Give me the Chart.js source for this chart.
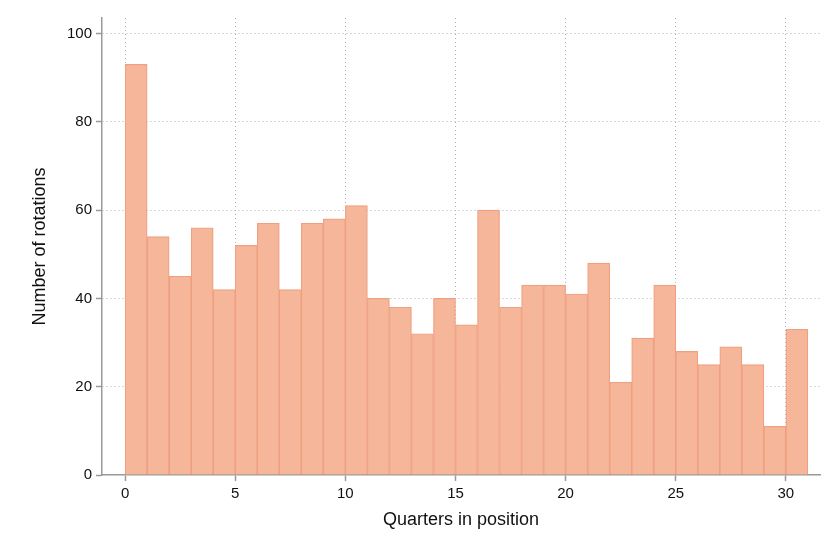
<!DOCTYPE html>
<html>
<head>
<meta charset="utf-8">
<script src="https://cdn.jsdelivr.net/npm/chart.js@4"></script>
<style>
html,body{margin:0;padding:0;background:#fff;}
#wrap{width:840px;height:560px;}
</style>
</head>
<body>
<div id="wrap"><canvas id="c" width="840" height="560"></canvas></div>
<script>
const binStarts = [0,1,2,3,4,5,6,7,8,9,10,11,12,13,14,15,16,17,18,19,20,21,22,23,24,25,26,27,28,29,30];
const counts = [93,54,45,56,42,52,57,42,57,58,61,40,38,32,40,34,60,38,43,43,41,48,21,31,43,28,25,29,25,11,33];
const xTicks = [0,5,10,15,20,25,30];
const yTicks = [0,20,40,60,80,100];
const xTitle = "Quarters in position";
const yTitle = "Number of rotations";

const pts = binStarts.map((b,i)=>({x:b+0.5,y:counts[i]}));
const font = {family:"'Liberation Sans', Arial, Helvetica, sans-serif", size:15};

new Chart(document.getElementById('c'), {
  type:'bar',
  data:{datasets:[{
    data:pts,
    backgroundColor:'rgba(245,182,154,1)',
    borderColor:'rgba(240,160,128,1)',
    borderWidth:1.2,
    barPercentage:1,
    categoryPercentage:1
  }]},
  options:{
    responsive:false,
    animation:false,
    layout:{padding:{top:18,right:20,left:0,bottom:0}},
    plugins:{legend:{display:false},tooltip:{enabled:false}},
    scales:{
      x:{
        type:'linear',
        offset:false,
        min:-1.05,max:31.55,
        afterBuildTicks:s=>{s.ticks=xTicks.map(v=>({value:v}));},
        afterFit:s=>{s.height=85;},
        ticks:{font:font,color:'#111',padding:4,maxRotation:0},
        grid:{offset:false,color:'#b0b0b0',lineWidth:1,drawTicks:true,tickLength:6,tickColor:'#999',tickBorderDash:[],tickWidth:1.5},
        border:{display:true,color:'#999',width:1.5,dash:[1,3]},
        title:{display:true,text:xTitle,font:{family:font.family,size:18},color:'#111',padding:{top:0,bottom:29}}
      },
      y:{
        min:0,max:103.5,
        afterBuildTicks:s=>{s.ticks=yTicks.map(v=>({value:v}));},
        afterFit:s=>{s.width=102;},
        ticks:{font:font,color:'#111',padding:4},
        grid:{color:c=>c.tick&&c.tick.value===0?'rgba(0,0,0,0)':'#b0b0b0',lineWidth:1,drawTicks:true,tickLength:6,tickColor:'#999',tickBorderDash:[],tickWidth:1.5},
        border:{display:true,color:'#999',width:1.5,dash:[1,3]},
        title:{display:true,text:yTitle,font:{family:font.family,size:18},color:'#111',padding:{top:29,bottom:0}}
      }
    }
  }
});
</script>
</body>
</html>
